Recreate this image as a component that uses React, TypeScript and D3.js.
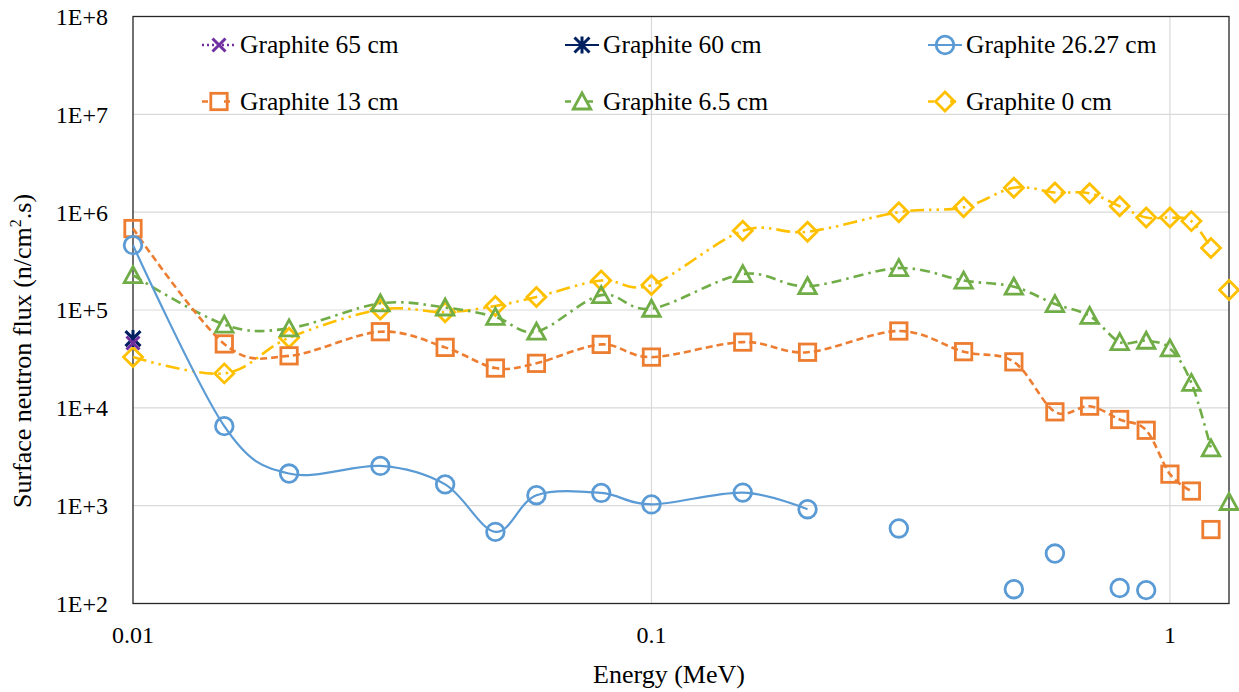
import React from "react";
import * as d3 from "d3";

// Energy grid (MeV) shared by every series
const energies = [
  0.01, 0.015, 0.02, 0.03, 0.04, 0.05, 0.06, 0.08, 0.1, 0.15, 0.2, 0.3, 0.4,
  0.5, 0.6, 0.7, 0.8, 0.9, 1.0, 1.1, 1.2, 1.3,
];

// Surface neutron flux (n/cm².s) per graphite thickness; null = no value
const graphite65 = [4.6e4];
const graphite60 = [5.1e4];
const graphite26 = [
  4.6e5, 6.5e3, 2.13e3, 2.55e3, 1.65e3, 5.4e2, 1.28e3, 1.35e3, 1.03e3, 1.36e3,
  9.2e2, 5.85e2, null, 1.4e2, 3.24e2, null, 1.44e2, 1.37e2, null, null, null,
  null,
];
const graphite13 = [
  6.8e5, 4.5e4, 3.4e4, 6.0e4, 4.15e4, 2.55e4, 2.85e4, 4.45e4, 3.3e4, 4.7e4,
  3.7e4, 6.1e4, 3.75e4, 2.95e4, 9.1e3, 1.04e4, 7.6e3, 5.9e3, 2.1e3, 1.41e3,
  5.7e2, null,
];
const graphite6_5 = [
  2.27e5, 7.1e4, 6.5e4, 1.17e5, 1.06e5, 8.5e4, 6.0e4, 1.42e5, 1.03e5, 2.33e5,
  1.75e5, 2.68e5, 2.0e5, 1.73e5, 1.15e5, 8.7e4, 4.7e4, 4.85e4, 4.05e4, 1.8e4,
  3.85e3, 1.09e3,
];
const graphite0 = [
  3.3e4, 2.25e4, 5.2e4, 1.01e5, 9.5e4, 1.1e5, 1.36e5, 2.0e5, 1.8e5, 6.45e5,
  6.3e5, 1.0e6, 1.12e6, 1.78e6, 1.59e6, 1.56e6, 1.15e6, 8.8e5, 8.8e5, 8.1e5,
  4.3e5, 1.6e5,
];

const yTicks = [1e2, 1e3, 1e4, 1e5, 1e6, 1e7, 1e8];
const yTickLabels = ["1E+2", "1E+3", "1E+4", "1E+5", "1E+6", "1E+7", "1E+8"];
const xTicks = [0.01, 0.1, 1];
const xTickLabels = ["0.01", "0.1", "1"];

type Marker = "x" | "star" | "circle" | "square" | "triangle" | "diamond";

interface Series {
  name: string;
  values: (number | null)[];
  color: string;
  dash: string | null;
  marker: Marker;
  joined: number; // how many leading points the smoothed line runs through
}

const series: Series[] = [
  { name: "Graphite 65 cm", values: graphite65, color: "#7030A0", dash: "2,3", marker: "x", joined: 1 },
  { name: "Graphite 60 cm", values: graphite60, color: "#002060", dash: null, marker: "star", joined: 1 },
  { name: "Graphite 26.27 cm", values: graphite26, color: "#5B9BD5", dash: null, marker: "circle", joined: 11 },
  { name: "Graphite 13 cm", values: graphite13, color: "#ED7D31", dash: "7,4", marker: "square", joined: 20 },
  { name: "Graphite 6.5 cm", values: graphite6_5, color: "#70AD47", dash: "10,5,2.5,5", marker: "triangle", joined: 21 },
  { name: "Graphite 0 cm", values: graphite0, color: "#FFC000", dash: "14,5,2.5,5,2.5,5", marker: "diamond", joined: 21 },
];

// draw order: back to front
const drawOrder = [5, 4, 3, 2, 1, 0];

const W = 1239;
const H = 692;
const plot = { left: 133, right: 1229, top: 16.5, bottom: 603.5 };

const x = d3.scaleLog().domain([0.01, 1.3]).range([plot.left, plot.right]);
const y = d3.scaleLog().domain([1e2, 1e8]).range([plot.bottom, plot.top]);

const FONT = "'Liberation Serif', 'Times New Roman', serif";

function markerShape(kind: Marker, cx: number, cy: number, color: string, key: string) {
  const sw = 2.8;
  switch (kind) {
    case "circle":
      return <circle key={key} cx={cx} cy={cy} r={8.8} fill="none" stroke={color} strokeWidth={sw} />;
    case "square":
      return <rect key={key} x={cx - 8.2} y={cy - 8.2} width={16.4} height={16.4} fill="none" stroke={color} strokeWidth={sw} />;
    case "triangle": {
      const h = 16, w = 17.5;
      const p = `M${cx},${cy - h / 2 - 0.5} L${cx + w / 2},${cy + h / 2 - 0.5} L${cx - w / 2},${cy + h / 2 - 0.5} Z`;
      return <path key={key} d={p} fill="none" stroke={color} strokeWidth={sw} strokeLinejoin="miter" />;
    }
    case "diamond": {
      const r = 9.5;
      const p = `M${cx},${cy - r} L${cx + r},${cy} L${cx},${cy + r} L${cx - r},${cy} Z`;
      return <path key={key} d={p} fill="none" stroke={color} strokeWidth={sw} />;
    }
    case "x": {
      const r = 6.5;
      const p = `M${cx - r},${cy - r} L${cx + r},${cy + r} M${cx - r},${cy + r} L${cx + r},${cy - r}`;
      return <path key={key} d={p} fill="none" stroke={color} strokeWidth={3} />;
    }
    case "star": {
      const r = 7.5;
      const p =
        `M${cx - r},${cy - r} L${cx + r},${cy + r} M${cx - r},${cy + r} L${cx + r},${cy - r}` +
        ` M${cx},${cy - r - 1} L${cx},${cy + r + 1}`;
      return <path key={key} d={p} fill="none" stroke={color} strokeWidth={3} />;
    }
  }
}

const lineGen = d3
  .line<[number, number]>()
  .x((d) => x(d[0]))
  .y((d) => y(d[1]))
  .curve(d3.curveCatmullRom.alpha(0));

const legendCols = [202, 565, 928];
const legendRows = [45, 101.5];

export default function App() {
  return (
    <svg
      width={W}
      height={H}
      viewBox={`0 0 ${W} ${H}`}
      style={{ position: "absolute", left: 0, top: 0, background: "#fff" }}
      fontFamily={FONT}
    >
      <rect x={0} y={0} width={W} height={H} fill="#fff" />

      {/* gridlines */}
      {yTicks.slice(1, -1).map((t) => (
        <line key={`gy${t}`} x1={plot.left} x2={plot.right} y1={y(t)} y2={y(t)} stroke="#d9d9d9" strokeWidth={1.2} />
      ))}
      {xTicks.slice(1).map((t) => (
        <line key={`gx${t}`} x1={x(t)} x2={x(t)} y1={plot.top} y2={plot.bottom} stroke="#d9d9d9" strokeWidth={1.2} />
      ))}

      {/* frame */}
      <rect x={plot.left} y={plot.top} width={plot.right - plot.left} height={plot.bottom - plot.top} fill="none" stroke="#262626" strokeWidth={1.3} />

      {/* series lines */}
      {drawOrder.map((si) => {
        const s = series[si];
        const pts: [number, number][] = [];
        for (let i = 0; i < s.joined && i < s.values.length; i++) {
          const v = s.values[i];
          if (v != null) pts.push([energies[i], v]);
        }
        if (pts.length < 2) return null;
        return (
          <path
            key={`l${si}`}
            d={lineGen(pts) ?? ""}
            fill="none"
            stroke={s.color}
            strokeWidth={s.dash ? 2.6 : 2.2}
            strokeDasharray={s.dash ?? undefined}
          />
        );
      })}

      {/* series markers */}
      {drawOrder.map((si) => {
        const s = series[si];
        return (
          <g key={`m${si}`}>
            {s.values.map((v, i) =>
              v == null ? null : markerShape(s.marker, x(energies[i]), y(v), s.color, `${si}-${i}`)
            )}
          </g>
        );
      })}

      {/* y tick labels */}
      {yTicks.map((t, i) => (
        <text key={`yt${t}`} x={108} y={y(t)} dy="0.35em" textAnchor="end" fontSize={24} fontFamily={FONT} fill="#000">
          {yTickLabels[i]}
        </text>
      ))}

      {/* x tick labels */}
      {xTicks.map((t, i) => (
        <text key={`xt${t}`} x={x(t)} y={643} textAnchor="middle" fontSize={24} fontFamily={FONT} fill="#000">
          {xTickLabels[i]}
        </text>
      ))}

      {/* axis titles */}
      <text x={669} y={683} textAnchor="middle" fontSize={26} fontFamily={FONT} fill="#000">
        Energy (MeV)
      </text>
      <text transform={`translate(31,351) rotate(-90)`} textAnchor="middle" fontSize={26} fontFamily={FONT} fill="#000">
        Surface neutron flux (n/cm
        <tspan fontSize={16} dy={-10}>2</tspan>
        <tspan dy={10}>.s)</tspan>
      </text>

      {/* legend */}
      {series.map((s, i) => {
        const col = i % 3;
        const row = Math.floor(i / 3);
        const x0 = legendCols[col];
        const cy = legendRows[row];
        const len = 34;
        return (
          <g key={`lg${i}`}>
            <line
              x1={x0}
              x2={x0 + len}
              y1={cy}
              y2={cy}
              stroke={s.color}
              strokeWidth={s.dash ? 2.6 : 2.2}
              strokeDasharray={s.dash ? (s.marker === "x" ? "2,3" : "6,16") : undefined}
            />
            {markerShape(s.marker, x0 + len / 2, cy, s.color, `lgm${i}`)}
            <text x={x0 + len + 4} y={cy} dy="0.33em" fontSize={25.5} fontFamily={FONT} fill="#000">
              {s.name}
            </text>
          </g>
        );
      })}
    </svg>
  );
}
